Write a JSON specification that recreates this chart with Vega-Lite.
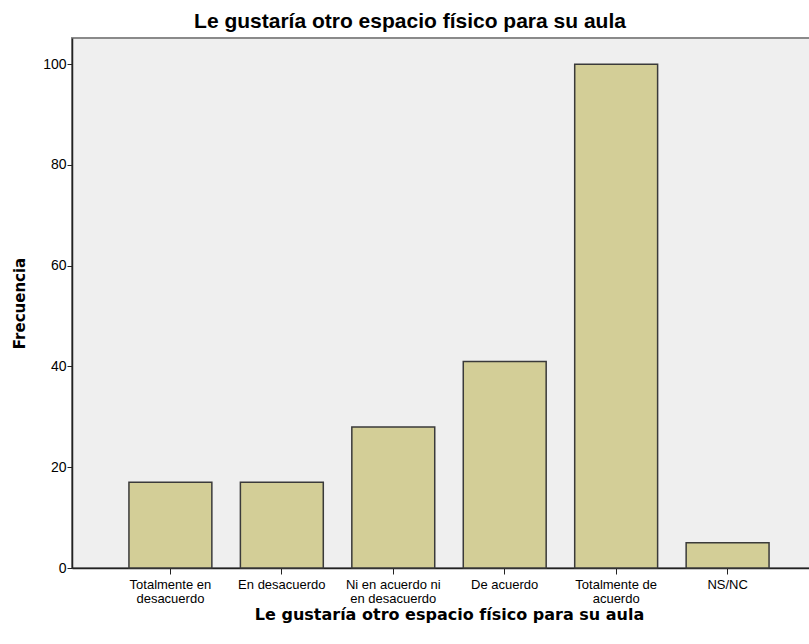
{
  "$schema": "https://vega.github.io/schema/vega-lite/v6.json",
  "autosize": {"type": "none"},
  "padding": {"left": 72, "top": 38, "right": 0, "bottom": 76},
  "width": 754,
  "height": 530,
  "background": "#ffffff",
  "title": {
    "text": "Le gustaría otro espacio físico para su aula",
    "font": "Liberation Sans",
    "fontSize": 21,
    "fontWeight": "bold",
    "color": "#000000",
    "anchor": "middle",
    "frame": "group",
    "dx": -39,
    "offset": 6
  },
  "config": {
    "view": {"fill": "#efefef", "stroke": "#8a8a8a", "strokeWidth": 2},
    "axis": {"domainColor": "#222222", "tickColor": "#222222", "grid": false}
  },
  "data": {
    "values": [
      {"categoria": "Totalmente en desacuerdo", "frecuencia": 17},
      {"categoria": "En desacuerdo", "frecuencia": 17},
      {"categoria": "Ni en acuerdo ni en desacuerdo", "frecuencia": 28},
      {"categoria": "De acuerdo", "frecuencia": 41},
      {"categoria": "Totalmente de acuerdo", "frecuencia": 100},
      {"categoria": "NS/NC", "frecuencia": 5}
    ]
  },
  "mark": {"type": "bar", "fill": "#d3ce97", "stroke": "#3a3a3a", "strokeWidth": 1.5},
  "encoding": {
    "x": {
      "field": "categoria",
      "type": "nominal",
      "sort": null,
      "scale": {"paddingInner": 0.256, "paddingOuter": 0.511},
      "axis": {
        "title": "Le gustaría otro espacio físico para su aula",
        "titleFont": "DejaVu Sans",
        "titleFontSize": 16,
        "titleFontWeight": "bold",
        "titleColor": "#000000",
        "titlePadding": 1,
        "labelAngle": 0,
        "labelFont": "Liberation Sans",
        "labelFontSize": 13,
        "labelLineHeight": 14,
        "labelColor": "#000000",
        "labelPadding": 4,
        "tickSize": 6,
        "domainWidth": 1.5,
        "labelExpr": "datum.value == 'Totalmente en desacuerdo' ? ['Totalmente en', 'desacuerdo'] : datum.value == 'Ni en acuerdo ni en desacuerdo' ? ['Ni en acuerdo ni', 'en desacuerdo'] : datum.value == 'Totalmente de acuerdo' ? ['Totalmente de', 'acuerdo'] : datum.value"
      }
    },
    "y": {
      "field": "frecuencia",
      "type": "quantitative",
      "scale": {"domain": [0, 105.2], "nice": false},
      "axis": {
        "title": "Frecuencia",
        "titleFont": "DejaVu Sans",
        "titleFontSize": 15,
        "titleFontWeight": "bold",
        "titleColor": "#000000",
        "titlePadding": 15,
        "values": [0, 20, 40, 60, 80, 100],
        "labelFont": "Liberation Sans",
        "labelFontSize": 14,
        "labelColor": "#000000",
        "labelPadding": 1,
        "tickSize": 5,
        "domainWidth": 1.5
      }
    }
  }
}
